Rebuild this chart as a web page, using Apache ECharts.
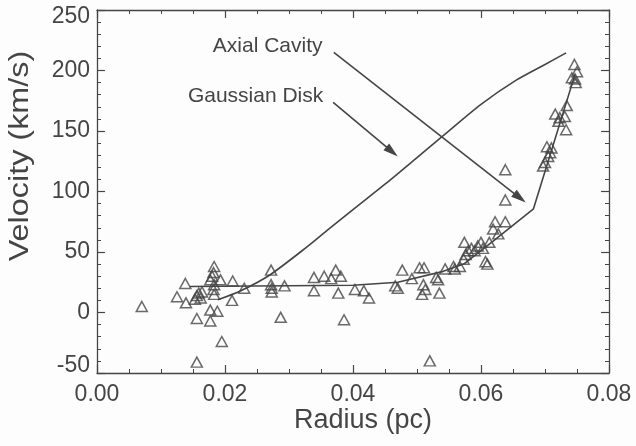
<!DOCTYPE html>
<html>
<head>
<meta charset="utf-8">
<script src="https://cdn.jsdelivr.net/npm/echarts@6/dist/echarts.min.js"></script>
<style>
  html, body { margin: 0; padding: 0; background: #fdfdfd; }
  #chart { width: 636px; height: 446px; }
</style>
</head>
<body>
<div id="chart"></div>
<script>
// Observed points: radius (pc) and velocity (km/s)
var obsRadius = [
  0.0070, 0.0125, 0.0138, 0.0139, 0.0153, 0.0156, 0.0159, 0.0162, 0.0164, 0.0156,
  0.0156, 0.0177, 0.0188, 0.0177, 0.0195, 0.0183, 0.0180, 0.0182, 0.0177, 0.0193,
  0.0183, 0.0182, 0.0183, 0.0212, 0.0211, 0.0230, 0.0272, 0.0272, 0.0273, 0.0273,
  0.0293, 0.0287, 0.0339, 0.0339, 0.0355, 0.0366, 0.0373, 0.0381, 0.0377, 0.0386,
  0.0403, 0.0417, 0.0425, 0.0466, 0.0470, 0.0477, 0.0492, 0.0504, 0.0511, 0.0510,
  0.0513, 0.0508, 0.0520, 0.0530, 0.0533, 0.0535, 0.0544, 0.0557, 0.0559, 0.0567,
  0.0573, 0.0574, 0.0576, 0.0580, 0.0585, 0.0590, 0.0595, 0.0600, 0.0603, 0.0607,
  0.0610, 0.0613, 0.0619, 0.0622, 0.0627, 0.0638, 0.0638, 0.0638, 0.0697, 0.0700,
  0.0703, 0.0705, 0.0708, 0.0710, 0.0716, 0.0721, 0.0723, 0.0731, 0.0733, 0.0734,
  0.0742, 0.0746, 0.0747, 0.0748, 0.0750
];
var obsVelocity = [
  5, 13, 24, 8, 11, 14, 16, 12, 17, -5,
  -41, 2, 1, -7, -24, 38, 30, 33, 27, 27,
  23, 19, 15, 26, 10, 20, 35, 23, 20, 17,
  22, -4, 29, 18, 30, 28, 35, 30, 16, -6,
  19, 18, 12, 22, 20, 35, 28, 37, 37, 23,
  19, 15, -40, 29, 27, 16, 36, 38, 36, 38,
  44, 58, 48, 51, 53, 51, 55, 58, 53, 42,
  40, 58, 69, 75, 65, 75, 118, 93, 121, 124,
  137, 129, 132, 136, 164, 158, 161, 162, 151, 171,
  194, 205, 193, 190, 199
];

// Gaussian Disk model curve
var gaussRadius   = [0.0189, 0.0223, 0.0270, 0.0330, 0.0360, 0.0400, 0.0450, 0.0500, 0.0540, 0.0600, 0.0655, 0.0700, 0.0733];
var gaussVelocity = [10.5, 17.5, 31, 55, 68, 85, 106, 128, 145.7, 172, 192, 205, 214.6];

// Axial Cavity model curve
var cavityRadius   = [0.0145, 0.0400, 0.0470, 0.0541, 0.0573, 0.0619, 0.0682, 0.0747];
var cavityVelocity = [21.5, 22.5, 25, 34, 40, 59, 85.7, 197];

// Annotation labels (text, anchor radius, anchor velocity)
var labelTexts    = ['Axial Cavity', 'Gaussian Disk'];
var labelRadius   = [0.0181, 0.0142];
var labelVelocity = [219.8, 178.5];

// Arrows (from -> to)
var arrowFromR = [0.0370, 0.0369];
var arrowFromV = [214.9, 173.6];
var arrowToR   = [0.0670, 0.0470];
var arrowToV   = [90.9, 128.9];

// Axis ticks
var xTicks = [0.00, 0.02, 0.04, 0.06, 0.08];
var yTicks = [-50, 0, 50, 100, 150, 200, 250];

var INK = '#454545';
var FONT = '"Liberation Sans", Arial, Helvetica, sans-serif';

var chart = echarts.init(document.getElementById('chart'), null, { renderer: 'canvas' });

function axisCommon(showLabels, isX) {
  return {
    type: 'value',
    min: isX ? xTicks[0] : yTicks[0],
    max: isX ? xTicks[xTicks.length - 1] : yTicks[yTicks.length - 1],
    interval: isX ? (xTicks[1] - xTicks[0]) : (yTicks[1] - yTicks[0]),
    axisLine: { show: true, onZero: false, lineStyle: { color: INK, width: 1.3 } },
    axisTick: { show: true, inside: true, length: 8, lineStyle: { color: INK, width: 1.2 } },
    minorTick: { show: true, splitNumber: isX ? 4 : 5, length: 4, lineStyle: { color: INK, width: 1 } },
    splitLine: { show: false },
    minorSplitLine: { show: false },
    axisLabel: showLabels ? {
      show: true,
      color: INK,
      fontFamily: FONT,
      fontSize: 23,
      margin: isX ? 10 : 7,
      formatter: isX ? function (v) { return v.toFixed(2); } : function (v) {
        if (v === yTicks[yTicks.length - 1]) return '{top|' + v + '}';
        if (v === yTicks[0]) return '{bot|' + v + '}';
        return String(v);
      },
      rich: isX ? undefined : {
        top: { fontSize: 23, fontFamily: FONT, color: INK, padding: [14, 0, 0, 0] },
        bot: { fontSize: 23, fontFamily: FONT, color: INK, padding: [0, 0, 14, 0] }
      }
    } : { show: false }
  };
}

var xBottom = axisCommon(true, true);  xBottom.position = 'bottom';
var xTop = axisCommon(false, true);    xTop.position = 'top';
var yLeft = axisCommon(true, false);   yLeft.position = 'left';
var yRight = axisCommon(false, false); yRight.position = 'right';

var obsData = obsRadius.map(function (r, i) { return [r, obsVelocity[i]]; });
var gaussData = gaussRadius.map(function (r, i) { return [r, gaussVelocity[i]]; });
var cavityData = cavityRadius.map(function (r, i) { return [r, cavityVelocity[i]]; });
var arrowData = arrowFromR.map(function (r, i) { return [r, arrowFromV[i], arrowToR[i], arrowToV[i]]; });
var labelData = labelTexts.map(function (t, i) { return [labelRadius[i], labelVelocity[i], t]; });

var option = {
  backgroundColor: '#fdfdfd',
  animation: false,
  grid: { left: 97, right: 27, top: 10, bottom: 73 },
  xAxis: [xBottom, xTop],
  yAxis: [yLeft, yRight],
  graphic: [
    {
      type: 'text',
      x: 21, y: 156,
      rotation: Math.PI / 2,
      scaleX: 1.2,
      style: {
        text: 'Velocity (km/s)',
        font: '27px ' + FONT,
        fill: INK,
        align: 'center',
        verticalAlign: 'middle'
      }
    },
    {
      type: 'text',
      x: 363, y: 421,
      style: {
        text: 'Radius (pc)',
        font: '27px ' + FONT,
        fill: INK,
        align: 'center',
        verticalAlign: 'middle'
      }
    }
  ],
  series: [
    {
      type: 'line',
      name: 'Gaussian Disk',
      data: gaussData,
      smooth: 0.25,
      showSymbol: false,
      lineStyle: { color: INK, width: 1.6 },
      z: 3
    },
    {
      type: 'line',
      name: 'Axial Cavity',
      data: cavityData,
      smooth: false,
      showSymbol: false,
      lineStyle: { color: INK, width: 1.6 },
      z: 3
    },
    {
      type: 'scatter',
      name: 'Observed',
      data: obsData,
      symbol: 'triangle',
      symbolSize: [11, 10],
      itemStyle: { color: 'rgba(0,0,0,0)', borderColor: INK, borderWidth: 1.5 },
      z: 4
    },
    {
      type: 'custom',
      name: 'arrows',
      data: arrowData,
      encode: { x: [0, 2], y: [1, 3] },
      renderItem: function (params, api) {
        var p0 = api.coord([api.value(0), api.value(1)]);
        var p1 = api.coord([api.value(2), api.value(3)]);
        var dx = p1[0] - p0[0], dy = p1[1] - p0[1];
        var len = Math.sqrt(dx * dx + dy * dy);
        var ux = dx / len, uy = dy / len;
        var hl = 15, hw = 4.5;
        var bx = p1[0] - ux * hl, by = p1[1] - uy * hl;
        return {
          type: 'group',
          children: [
            {
              type: 'line',
              shape: { x1: p0[0], y1: p0[1], x2: bx + ux * 2, y2: by + uy * 2 },
              style: { stroke: INK, lineWidth: 1.6 }
            },
            {
              type: 'polygon',
              shape: { points: [[p1[0], p1[1]], [bx - uy * hw, by + ux * hw], [bx + uy * hw, by - ux * hw]] },
              style: { fill: INK }
            }
          ]
        };
      },
      z: 5
    },
    {
      type: 'custom',
      name: 'labels',
      data: labelData,
      encode: { x: 0, y: 1 },
      renderItem: function (params, api) {
        var p = api.coord([api.value(0), api.value(1)]);
        return {
          type: 'text',
          x: p[0], y: p[1],
          style: {
            text: labelTexts[params.dataIndex],
            font: '21px ' + FONT,
            fill: INK,
            align: 'left',
            verticalAlign: 'middle'
          }
        };
      },
      z: 5
    }
  ]
};

chart.setOption(option);
</script>
</body>
</html>
